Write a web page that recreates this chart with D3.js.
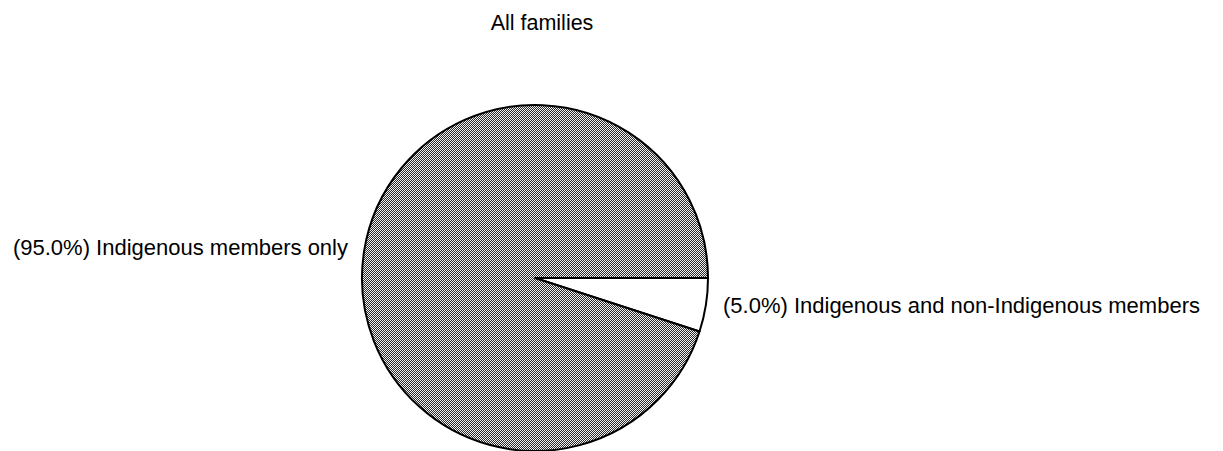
<!DOCTYPE html>
<html>
<head>
<meta charset="utf-8">
<script src="https://cdn.jsdelivr.net/npm/d3@7"></script>
<style>
  html, body { margin: 0; padding: 0; background: #fff; }
  svg { display: block; }
  text { font-family: 'Liberation Sans', Arial, sans-serif; fill: #000; }
</style>
</head>
<body>
<div id="chart"></div>
<script>
'use strict';

// chart data
var TITLE = 'All families';
var categories = ['Indigenous and non-Indigenous members', 'Indigenous members only'];
var values = [5.0, 95.0];
var fills = ['#ffffff', 'url(#halftone)'];

var WIDTH = 1223,
    HEIGHT = 451,
    CX = 535,
    CY = 278,
    RADIUS = 173;

var svg = d3.select('#chart').append('svg')
    .attr('width', WIDTH)
    .attr('height', HEIGHT)
    .attr('viewBox', '0 0 ' + WIDTH + ' ' + HEIGHT);

// dithered grey fill, like the old print
var pattern = svg.append('defs').append('pattern')
    .attr('id', 'halftone')
    .attr('patternUnits', 'userSpaceOnUse')
    .attr('width', 2)
    .attr('height', 2);
pattern.append('rect')
    .attr('width', 2).attr('height', 2)
    .attr('fill', '#f2f2f2');
pattern.append('rect')
    .attr('width', 1).attr('height', 1)
    .attr('fill', '#2a2a2a');
pattern.append('rect')
    .attr('x', 1).attr('y', 1)
    .attr('width', 1).attr('height', 1)
    .attr('fill', '#2a2a2a');

svg.append('text')
    .attr('x', 542)
    .attr('y', 30)
    .attr('text-anchor', 'middle')
    .style('font-size', '21.5px')
    .text(TITLE);

// first slice starts at 3 o'clock and runs clockwise
var pie = d3.pie()
    .sort(null)
    .startAngle(Math.PI / 2)
    .endAngle(Math.PI / 2 + 2 * Math.PI);

var arc = d3.arc()
    .innerRadius(0)
    .outerRadius(RADIUS);

var arcs = pie(values);

var plot = svg.append('g')
    .attr('transform', 'translate(' + CX + ',' + CY + ')');

plot.selectAll('path')
    .data(arcs)
    .enter().append('path')
    .attr('d', arc)
    .attr('fill', function (d, i) { return fills[i]; })
    .attr('stroke', '#000')
    .attr('stroke-width', 2)
    .attr('stroke-linejoin', 'round');

// labels sit outside the pie, level with each slice's mid angle
var fmt = d3.format('.1f');
plot.selectAll('text.label')
    .data(arcs)
    .enter().append('text')
    .attr('class', 'label')
    .each(function (d, i) {
      var mid = (d.startAngle + d.endAngle) / 2,
          y = -Math.cos(mid) * RADIUS,
          right = Math.sin(mid) > 0;
      d3.select(this)
          .attr('x', right ? RADIUS + 15 : -RADIUS - 14)
          .attr('y', y + (right ? 8 : 4))
          .attr('text-anchor', right ? 'start' : 'end');
    })
    .style('font-size', '22px')
    .text(function (d, i) {
      return '(' + fmt(values[i]) + '%) ' + categories[i];
    });
</script>
</body>
</html>
